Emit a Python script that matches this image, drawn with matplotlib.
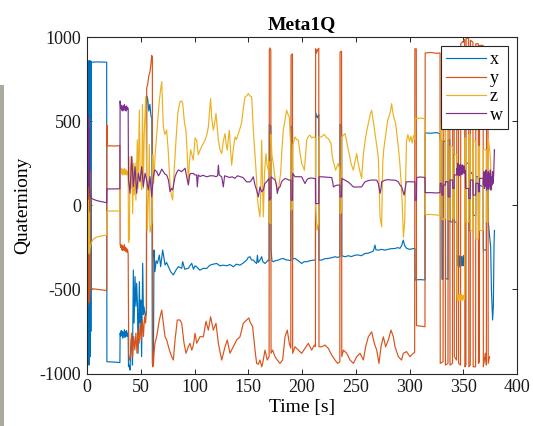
import matplotlib
matplotlib.use("Agg")
import matplotlib.pyplot as plt
from matplotlib.patches import Rectangle

plt.rcParams['font.family'] = ['Liberation Serif', 'DejaVu Serif']
plt.rcParams['axes.unicode_minus'] = False

# ---------------- data: (time [s], value) ----------------
x_series = [
(0.0,-960),(0.3,850),(0.6,-900),(0.9,860),(1.2,-700),(1.5,845),(1.8,-950),(2.1,855),(2.4,-620),(2.7,860),(3.0,-900),(3.3,850),(3.6,-750),(3.9,855),(4.2,850),
(10,852),(18.3,850),(18.5,-930),(25,-932),(30.6,-935),
(30.8,-760),(31.3,-780),(31.8,-745),(32.3,-775),(32.8,-750),(33.3,-790),(33.8,-755),(34.3,-770),(34.8,-740),(35.3,-785),(35.8,-750),(36.3,-775),(36.8,-745),(37.3,-780),(37.8,-760),(38.3,-770),
(38.6,-960),(39.5,-950),(40.0,-980),(41.0,-800),(41.6,-781),(42.3,-950),(43.1,-385),(43.8,-700),(44.7,-424),(45.5,-600),(46.2,-464),(46.9,-583),(47.5,-880),(48.7,-454),(49.3,-700),(50.0,-563),(50.8,-900),(51.8,-345),(52.5,-650),(53.0,-603),(54.3,-660),(55.3,-640),
(55.5,650),(56.5,630),(57.5,560),(58.5,600),(59.5,530),(60.3,520),(60.8,-940),(61.8,-930),
(62.3,-266),(63.2,-395),(64.3,-330),(65.5,-345),(67.3,-296),(68.5,-365),(70.4,-266),(72.6,-355),(74,-340),(75.7,-365),(77.8,-395),(80.3,-414),(82.8,-385),(85.0,-365),(88.1,-375),(89.0,-335),(90.9,-380),(94.2,-375),(97.4,-345),(99,-380),(100.5,-360),(102,-366),(105,-386),(108,-375),(111.3,-376),(114.4,-356),(117.5,-350),(120.6,-346),(123.7,-360),(126.8,-356),(130,-360),(133,-352),(136.1,-366),(139,-350),(142.3,-356),(145,-345),(148.5,-326),(150,-310),(151.6,-306),(153,-325),(154.7,-326),(156,-335),(157.8,-346),(158.5,-297),(159.3,-340),(160.9,-326),(162.5,-306),(163.5,-335),(165.6,-346),(168.7,-326),(169.4,-330),
(169.6,480),(171.0,470),(171.2,-257),(172,-330),(173.3,-336),(175,-330),(178,-326),(180,-320),(182.6,-316),(185,-325),(187.3,-326),(189.6,-330),
(189.8,470),(191.2,460),(191.3,-320),(193.5,-316),(196.6,-330),(199.7,-346),(202,-335),(204.4,-336),(207,-330),(210.6,-326),(212.5,-326),
(212.7,550),(214.2,520),(215.6,540),(215.8,-326),(218.3,-326),(221,-318),(224.5,-316),(227.5,-312),(230.7,-306),(233,-310),(235.2,-306),
(235.4,480),(236.8,470),(237.0,-300),(240,-306),(243,-300),(246,-305),(249.3,-297),(252,-295),(255,-300),(258.6,-287),(261.5,-285),(264.8,-277),(266.5,-270),(267.9,-237),(268.8,-265),(271,-267),(274,-262),(277.2,-267),(280,-262),(283,-258),(286.5,-257),(289,-252),(291.1,-256),(292.7,-240),(294.2,-207),(295.5,-240),(297.3,-256),(300,-262),(303,-258),(305.0,-256),
(305.2,-444),(310,-442),(314.4,-444),(314.6,430),(320,428),(325,432),(328.4,425),
(328.6,385),(330.0,385),(330.2,-440),(331.3,-440),(331.5,380),(333.4,380),(333.6,-435),(335.8,-440),(336.0,390),(337.5,388),(337.7,-98),(340.0,-100),(340.2,300),(341.5,300),(341.7,-100),(344.0,-100),
(344.2,-330),(344.6,-300),(345.0,-360),(345.4,-310),(345.8,-370),(346.2,-320),(346.6,-355),(347.0,-300),(347.4,-365),(347.8,-315),(348.2,-350),(348.6,-305),(349.0,-360),(349.4,-320),(349.8,-345),(350.2,-300),(350.6,-360),(351.0,-325),(351.5,-340),(352.0,-330),
(352.2,250),(355.0,250),(355.2,-150),(356.5,-150),(356.7,200),(359.0,180),(359.2,-60),(361.5,-60),(361.7,170),(364.0,170),(364.2,-100),(365.0,-100),(365.2,120),(368.5,110),(368.7,-266),(371.5,-266),(371.7,150),(373.0,140),(373.3,-100),(375.5,-250),(376.2,-500),(377.3,-682),(378.0,-600),(378.6,-250),(379.0,-150),
]

y_series = [
(0.0,-100),(0.3,550),(0.6,-600),(0.9,480),(1.2,-400),(1.5,520),(1.8,-580),(2.1,400),(2.4,-550),(2.7,200),(3.0,-495),(10,-500),(18.3,-507),
(18.5,477),(18.8,354),(25,352),(30.6,354),
(30.8,-230),(31.3,-250),(31.8,-235),(32.3,-265),(32.8,-240),(33.3,-270),(33.8,-245),(34.3,-260),(34.8,-235),(35.3,-270),(35.8,-250),(36.3,-275),(36.8,-255),(37.3,-280),(37.8,-265),(38.3,-290),
(38.8,-880),(39.5,-920),(40.5,-900),(41.5,-760),(42.5,-900),(43.5,-780),(44.5,-860),(45.5,-760),(46.5,-880),(47.5,-741),(48.5,-820),(49.5,-700),(50.5,-800),(51.5,-682),(52.5,-780),(53.5,-662),(54.5,-700),(55.3,-623),
(55.5,695),(56.5,720),(57.5,770),(58.5,790),(59.3,830),(60.2,890),(60.8,880),(61.0,-960),(61.7,-955),
(62.3,-880),(63.2,-821),(64.8,-781),(67.3,-682),(69.5,-623),(71,-702),(72.6,-781),(74.1,-800),(76.6,-860),(78.8,-900),(80.3,-920),(81.9,-801),(84.0,-682),(86.5,-682),(88.1,-702),(90.3,-821),(92.1,-880),(94.3,-840),(95.8,-821),(97.5,-861),(99,-830),(100.5,-761),(102,-820),(105.1,-781),(108.2,-782),(110.7,-690),(112.9,-742),(115,-663),(117.5,-742),(120,-702),(122.2,-821),(125.3,-920),(128.4,-841),(130.5,-801),(133,-880),(136.1,-841),(139.2,-801),(142.3,-782),(145.4,-702),(148.5,-683),(150.5,-670),(151.6,-693),(154.1,-722),(156.3,-861),(157.8,-940),(159.4,-945),(160.9,-920),(162.5,-960),(163.4,-940),(165.6,-861),(167.7,-920),(169.4,-900),
(169.6,921),(170.3,935),(171.0,921),(171.2,-880),(172.7,-861),(174.9,-900),(177,-920),(179.5,-940),(182,-920),(184.2,-782),(186.3,-742),(188.2,-821),(189.6,-850),
(189.8,891),(191.1,900),(191.3,-880),(193.5,-841),(196.6,-861),(199.7,-880),(202.8,-851),(205.9,-821),(209,-861),(211.5,-831),(212.5,-840),
(212.7,930),(213.6,905),(214.6,925),(215.6,933),(215.8,-841),(218.3,-841),(221.4,-831),(224.5,-851),(227.6,-890),(230.7,-920),(233.2,-940),(235.2,-930),
(235.4,911),(236.8,915),(237.0,-900),(238.5,-861),(241.6,-880),(244.7,-920),(247.8,-940),(250.9,-900),(254,-880),(257.1,-920),(259.2,-841),(261.7,-782),(264.8,-752),(267.3,-821),(269.5,-861),(271.6,-940),(273.5,-841),(275.7,-782),(277.8,-841),(280.3,-801),(282.8,-742),(285,-782),(286.5,-841),(289.6,-900),(292.7,-920),(294.2,-880),(297.3,-870),(300.4,-900),(303.5,-880),(304.8,-875),
(305.0,930),(306.3,930),(306.5,-715),(310,-718),(314.4,-722),(314.6,905),(320,908),(325,903),(328.4,905),
(328.6,-940),(331.2,-930),(331.4,920),(333.2,920),(333.4,-950),(335.8,-940),(336.0,900),(337.5,900),(337.7,-950),(340.0,-940),(340.2,880),(341.5,880),(341.7,-900),(343.8,-920),(344.0,930),(345.5,930),(345.7,-940),(347.5,-950),(347.7,960),(351.3,985),(351.5,-960),(352.5,-950),(352.7,995),(355.0,990),(355.2,-960),(356.5,-950),(356.7,980),(359.0,970),(359.2,-960),(361.5,-960),(361.7,960),(364.0,960),(364.2,-940),(365.0,-930),(365.2,950),(368.5,950),(368.7,-960),(370.5,-880),(371.5,-950),(371.7,920),(373.0,920),(373.2,-940),(374.5,-900),
]

z_series = [
(0.0,-30),(0.3,-290),(0.6,20),(0.9,-280),(1.2,30),(1.5,-250),(1.8,-40),(2.1,-290),(2.5,-270),(3,-250),(4,-225),(5,-210),(6,-201),(8,-192),(10,-187),(13,-183),(16,-180),(18.3,-178),
(18.5,-35),(25,-34),(30.6,-35),
(30.8,215),(31.3,185),(31.8,220),(32.3,190),(32.8,215),(33.3,180),(33.8,210),(34.3,188),(34.8,220),(35.3,182),(35.8,212),(36.3,190),(36.8,205),(37.3,180),(37.8,200),(38.3,195),
(38.6,-220),(39.5,-200),(40.0,289),(41.0,100),(41.6,290),(42.5,-50),(43.1,249),(44.0,60),(44.7,250),(45.5,30),(46.8,388),(47.5,100),(48.7,566),(49.5,180),(50.9,91),(51.6,600),(52.4,100),(53.2,420),(54.6,645),(55.5,150),(56.0,-150),(57.1,40),(58.0,360),(58.6,-160),(60.5,-100),(61.2,300),(62.0,130),(63.5,309),(64.8,420),(66,520),(67.3,620),(68.5,690),(69.5,735),(71,467),(72.5,420),(74.1,447),(75.5,330),(77.2,130),(78.5,60),(79.7,31),(81,200),(82.8,388),(84.5,550),(86.5,616),(88,620),(89,606),(90.5,500),(92.1,437),(93.3,300),(94.3,121),(95.2,250),(96.4,330),
(98.9,268),(100.5,400),(102,387),(103.5,300),(105.1,327),(107.5,360),(109.8,387),(111.5,420),(112.9,466),(114,560),(115,634),(116,520),(117.5,446),(119,500),(120,545),(121,470),(122.2,387),(123.7,330),(125.3,307),(126.8,380),(128.4,426),(129.5,360),(130.5,327),(131.5,400),(132.4,446),(133.5,330),(134.6,238),(136,330),(137.7,406),(139,390),(140.8,426),(142.5,460),(143.9,495),(145.5,580),(147,644),(148.5,650),(150.1,664),(151.5,650),(153.2,644),(154.7,446),(156.3,300),(157.8,149),(158.5,40),(159.4,-9),(160.9,-69),(161.7,100),(162.5,387),(163.2,150),(164,-69),(165.2,200),(166.5,307),(167.5,240),(168.7,208),(169.4,260),
(169.6,-100),(171.0,-110),(171.2,420),(172,300),(173.3,248),(174.5,180),(175.8,129),(177,100),(178,90),(179,140),(180.1,188),(181.5,350),(182.6,446),(184,500),(185.7,565),(187,540),(188.2,525),(189.6,330),
(189.8,-30),(191.2,-20),(191.4,360),(193.5,406),(195,390),(196.6,387),(198,320),(199.7,248),(201,230),(202.2,208),(203.3,300),(204.4,387),(206,410),(207.5,416),(209,400),(210.6,406),(212.5,400),
(212.7,-10),(214.0,-148),(215.6,-100),(215.8,406),(218.3,406),(220,420),(221.4,416),(223,400),(224.5,396),(227,367),(228,300),(229.2,258),(231.3,208),(232.5,230),(233.8,248),(235.2,210),
(235.4,-50),(236.8,-40),(237.0,406),(240,426),(241.5,380),(243.1,327),(244.5,290),(245.6,248),(247.8,208),(249.3,260),(250.9,307),(252,260),(253,228),(254.3,190),(255.5,159),(257,300),(259.2,406),(260.8,460),(262.3,505),(263.5,540),(264.8,565),(266.3,500),(267.9,426),(269.5,350),(271,287),(272.6,-69),(274.1,-128),(275.1,248),(276,330),(277.2,387),(278.5,450),(279.7,505),(281,530),(281.9,545),(283.4,604),(284.3,560),(285.3,525),(287.1,486),(288.3,420),(289.6,347),(291,250),(292.1,149),(293.3,0),(294.3,-190),(295.5,-100),(296.5,200),(297.2,380),(298.5,420),(300,380),(301.3,410),(302.5,370),(303.8,415),(305.0,390),
(305.2,515),(310,518),(314.4,515),(314.6,-55),(320,-55),(325,-58),(328.4,-60),
(328.6,480),(330.0,480),(330.2,-85),(331.3,-85),(331.5,-80),(333.4,-80),(333.6,500),(335.8,500),(336.0,-85),(337.5,-85),(337.7,350),(340.0,350),(340.2,-80),(341.5,-80),(341.7,300),(344.0,300),
(344.2,-540),(344.6,-570),(345.0,-530),(345.4,-565),(345.8,-535),(346.2,-560),(346.6,-530),(347.0,-565),(347.4,-540),(347.8,-560),(348.2,-530),(348.6,-560),(349.0,-545),(349.4,-565),(349.8,-535),(350.2,-555),(350.6,-540),(351.0,-560),
(351.3,-560),(351.5,400),(352.5,400),(352.7,-100),(355.0,-100),(355.2,420),(356.5,420),(356.7,-150),(359.0,-150),(359.2,380),(361.5,380),(361.7,-200),(364.0,-200),(364.2,350),(365.0,350),(365.2,-150),(368.5,-150),(368.7,330),(371.5,330),(371.7,-100),(373.0,-100),(373.2,400),(375.0,300),(376.5,100),
]

w_series = [
(0.0,300),(0.3,550),(0.6,120),(0.9,540),(1.2,110),(1.5,500),(1.8,150),(2.1,450),(2.5,80),(3,55),(4,42),(6,35),(9,28),(13,22),(18.3,15),
(18.5,97),(25,97),(30.6,98),
(30.8,620),(31.3,575),(31.8,595),(32.3,565),(32.8,590),(33.3,560),(33.8,590),(34.3,570),(34.8,598),(35.3,565),(35.8,585),(36.3,560),(36.8,590),(37.3,570),(37.8,580),(38.3,575),
(38.6,150),(40.0,71),(41.6,289),(43.1,111),(44.7,229),(46.2,71),(47.8,190),(49.3,140),(50.9,229),(52.4,111),(54.0,190),(55.5,150),(57.1,91),(58.6,170),(60.2,51),(61.7,170),(63,210),(64.8,200),(66.5,175),(67.9,190),(69.5,215),(71,200),(72.5,185),(74.1,180),(75.8,150),(77.2,81),(78.5,100),(79.7,91),(81.9,170),(83.5,195),(85,210),(88.1,200),(91.2,220),(92.7,170),(94.3,121),(95.5,180),(96.4,189),
(98.9,189),(100.5,180),(102,180),(102.6,109),(103.5,180),(105.1,171),(108,178),(111.3,169),(114.5,175),(117.5,175),(120,170),(121.5,175),(122.2,238),(123,180),(125.3,169),(126.8,109),(128,175),(130,171),(132.5,165),(135,169),(137.5,160),(140,175),(142.5,170),(145,165),(147,150),(148.5,139),(151.6,139),(153,150),(154.7,169),(156.3,120),(157.8,90),(159.4,50),(160.9,109),(162.5,80),(164,90),(165.5,130),(167,139),(169.4,160),
(169.6,30),(171.0,40),(171.2,169),(173,160),(175,150),(176.2,120),(177,70),(178,100),(179.5,109),(181,140),(182.5,150),(184.2,159),(186,155),(188,149),(189.6,150),
(189.8,30),(191.2,30),(191.4,189),(193.5,169),(196.6,170),(199.7,169),(201.2,150),(202.8,129),(204.4,150),(205.9,159),(208.5,162),(211.5,159),(212.5,159),
(212.7,10),(215.6,10),(215.8,169),(218.3,169),(221,168),(224,166),(227.6,165),(228.5,140),(229.2,109),(230.7,115),(232.3,119),(235.2,120),
(235.4,50),(236.8,50),(237.0,159),(240,149),(242.5,140),(244.7,129),(246,120),(247.8,109),(250,108),(252,109),(255.5,109),(257,125),(258.6,139),(261,145),(263.5,149),(266,150),(269.5,149),(271,130),(272.6,70),(273.5,100),(274.1,139),(277.2,149),(280,152),(283,150),(286.5,149),(288,145),(289.6,139),(291.2,120),(292.7,109),(294,80),(295,60),(296,100),(297,139),(300,140),(303,139),(305.0,139),
(305.2,30),(306.5,30),(306.7,165),(310,168),(314.4,165),(314.6,75),(320,75),(325,73),(328.4,75),
(328.6,130),(330.0,130),(330.2,60),(331.3,60),(331.5,120),(333.4,120),(333.6,140),(335.8,140),(336.0,50),(337.5,50),(337.7,150),(340.0,150),(340.2,100),(341.5,100),(341.7,180),(344.0,180),
(344.2,220),(344.6,180),(345.0,250),(345.4,190),(345.8,240),(346.2,175),(346.6,235),(347.0,185),(347.4,245),(347.8,180),(348.2,230),(348.6,190),(349.0,240),(349.4,185),(349.8,225),(350.2,195),(350.6,235),(351.0,190),(351.5,210),(352.0,200),
(352.2,100),(355.0,100),(355.2,40),(356.5,40),(356.7,150),(359.0,150),(359.2,60),(361.5,60),(361.7,130),(364.0,130),(364.2,80),(365.0,80),(365.2,160),(368.5,160),(368.7,120),
(369.2,200),(369.7,100),(370.2,190),(370.7,110),(371.2,210),(371.7,90),(372.2,180),(372.7,100),(373.2,200),(373.7,95),(374.2,190),(374.7,110),(375.2,210),(375.7,90),(376.2,170),(376.7,120),(377.2,200),(377.7,130),(378.3,180),(379.0,330),
]

series_labels = ['x', 'y', 'z', 'w']
series_colors = ['#0072BD', '#D95319', '#EDB120', '#7E2F8E']
x_ticks = [0, 50, 100, 150, 200, 250, 300, 350, 400]
y_ticks = [-1000, -500, 0, 500, 1000]
title_text = 'Meta1Q'
xlabel_text = 'Time [s]'
ylabel_text = 'Quaterniony'

# ---------------- figure ----------------
fig = plt.figure(figsize=(5.33, 4.26), dpi=100)
fig.patch.set_facecolor('white')
fig.patches.append(Rectangle((0, 0), 4 / 533, (426 - 85) / 426, transform=fig.transFigure,
                             facecolor='#aca99f', edgecolor='none', zorder=0))

ax = fig.add_axes([87 / 533, 1 - 373.5 / 426, 430 / 533, (373.5 - 37) / 426])

for pts, lab, col in zip([x_series, y_series, z_series, w_series], series_labels, series_colors):
    tt = [p[0] for p in pts]
    vv = [p[1] for p in pts]
    ax.plot(tt, vv, color=col, lw=0.85, label=lab)

ax.set_xlim(0, 400)
ax.set_ylim(-1000, 1000)
ax.set_xticks(x_ticks)
ax.set_yticks(y_ticks)
ax.tick_params(direction='in', top=True, right=True, length=3.5, width=0.7,
               labelsize=13, colors='#262626', labelcolor='#1a1a1a', pad=4)
for s in ax.spines.values():
    s.set_color('#262626')
    s.set_linewidth(0.8)

ax.set_title(title_text, fontsize=14, fontweight='bold', pad=6)
ax.set_xlabel(xlabel_text, fontsize=14, labelpad=2)
ax.set_ylabel(ylabel_text, fontsize=14, labelpad=6.5)

leg = ax.legend(loc='upper right', fontsize=13, frameon=True, fancybox=False,
                framealpha=1, edgecolor='#262626', handlelength=2.2,
                handletextpad=0.2, labelspacing=0.08, borderpad=0.3,
                borderaxespad=0.5)
leg.get_frame().set_linewidth(0.8)

fig.savefig('out.png', dpi=100)
